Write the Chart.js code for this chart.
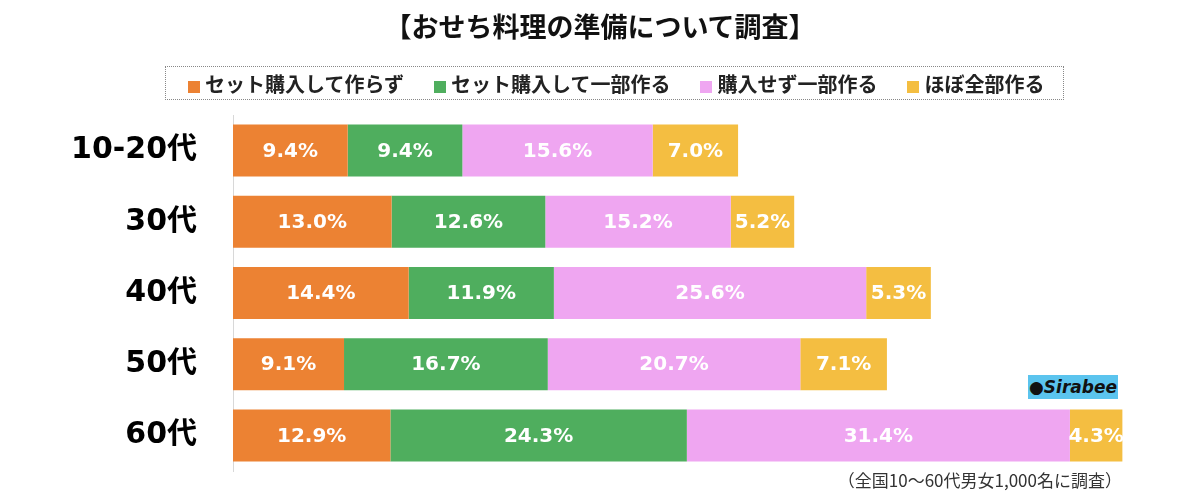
<!DOCTYPE html>
<html>
<head>
<meta charset="utf-8">
<script src="https://cdn.jsdelivr.net/npm/chart.js@4"></script>
<style>
  body { margin: 0; background: #fff; font-family: "Noto Sans CJK JP", sans-serif; }
  #wrap { position: relative; width: 1200px; height: 499px; overflow: hidden; }
  #chart { position: absolute; left: 0; top: 0; }
  #title { position: absolute; left: 0; width: 1200px; top: 6px; text-align: center; font-size: 27px; font-weight: 700; color: #111; }
  #legend { position: absolute; left: 165px; top: 66px; width: 899px; height: 34px; border: 1px dotted #888; box-sizing: border-box;
            display: flex; align-items: center; padding-left: 22px; gap: 30px; font-size: 20px; font-weight: 700; color: #222; }
  #legend span.sw { display: inline-block; width: 12px; height: 12px; margin-right: 5px; vertical-align: -1px; }
  #logo { position: absolute; left: 1028px; top: 375px; width: 90px; height: 24px; background: #5bc4ee;
          font: italic 700 17px "DejaVu Sans", sans-serif; color: #111; text-align: center; line-height: 24px; }
  #note { position: absolute; right: 78px; top: 467px; font-size: 17px; color: #333; }
</style>
</head>
<body>
<div id="wrap">
  <canvas id="chart" width="1200" height="499"></canvas>
  <div id="title">【おせち料理の準備について調査】</div>
  <div id="legend"></div>
  <div id="logo">&#x25CF;Sirabee</div>
  <div id="note">（全国10～60代男女1,000名に調査）</div>
</div>
<script>
document.addEventListener("DOMContentLoaded", () => {
  const ageGroups = ["10-20代", "30代", "40代", "50代", "60代"];
  const seriesNames = ["セット購入して作らず", "セット購入して一部作る", "購入せず一部作る", "ほぼ全部作る"];
  const setNoCook = [9.4, 13.0, 14.4, 9.1, 12.9];
  const setSomeCook = [9.4, 12.6, 11.9, 16.7, 24.3];
  const noSetSomeCook = [15.6, 15.2, 25.6, 20.7, 31.4];
  const cookAll = [7.0, 5.2, 5.3, 7.1, 4.3];
  const colors = ["#ec8233", "#4fae5e", "#efa6f1", "#f4be41"];

  const legend = document.getElementById("legend");
  seriesNames.forEach((name, i) => {
    const item = document.createElement("div");
    item.innerHTML = `<span class="sw" style="background:${colors[i]}"></span>${name}`;
    legend.appendChild(item);
  });

  const barLabels = {
    id: "barLabels",
    afterDatasetsDraw(chart) {
      const ctx = chart.ctx;
      ctx.save();
      ctx.fillStyle = "#fff";
      ctx.font = "700 20px 'DejaVu Sans', sans-serif";
      ctx.textAlign = "center";
      ctx.textBaseline = "middle";
      chart.data.datasets.forEach((ds, i) => {
        chart.getDatasetMeta(i).data.forEach((bar, j) => {
          const cx = (bar.x + bar.base) / 2;
          ctx.fillText(ds.data[j].toFixed(1) + "%", cx, bar.y + 1);
        });
      });
      ctx.restore();
    }
  };

  const datasets = [setNoCook, setSomeCook, noSetSomeCook, cookAll].map((data, i) => ({
    label: seriesNames[i],
    data,
    backgroundColor: colors[i],
    borderWidth: 0,
    categoryPercentage: 0.73,
    barPercentage: 1.0,
  }));

  new Chart(document.getElementById("chart"), {
    type: "bar",
    data: { labels: ageGroups, datasets },
    options: {
      indexAxis: "y",
      responsive: false,
      animation: false,
      layout: { padding: { left: 0, right: 52, top: 115, bottom: 28 } },
      plugins: { legend: { display: false }, tooltip: { enabled: false } },
      scales: {
        x: {
          stacked: true,
          min: 0,
          max: 75,
          display: false,
        },
        y: {
          stacked: true,
          grid: { display: false },
          border: { display: true, color: "#d8d8d8", width: 1 },
          ticks: {
            color: "#000",
            padding: 28,
            font: { family: "'DejaVu Sans', 'Noto Sans CJK JP', sans-serif", size: 30, weight: "bold" },
          },
          afterFit(scale) {
            scale.width = 233;
            scale.paddingTop = 0;
            scale.paddingBottom = 0;
          },
        },
      },
    },
    plugins: [barLabels],
  });
});
</script>
</body>
</html>
